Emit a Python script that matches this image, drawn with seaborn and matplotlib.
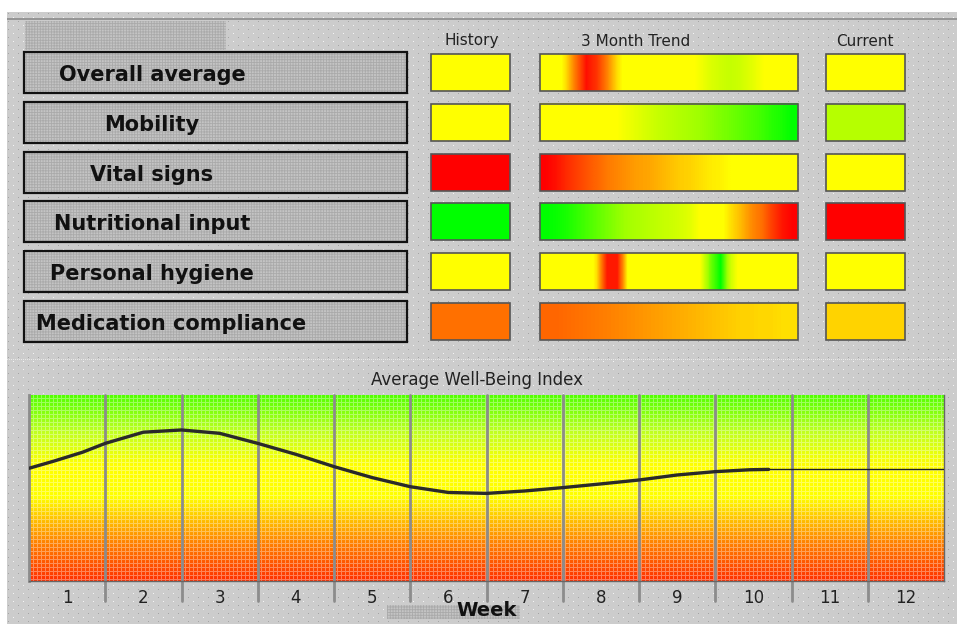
import numpy as np
import matplotlib
matplotlib.use("Agg")
import matplotlib.pyplot as plt
from matplotlib.patches import Rectangle
from matplotlib.colors import LinearSegmentedColormap, Normalize
import seaborn as sns

# ---- data (scores 0 = bad/red, 55 = ok/yellow, 100 = good/green) ----
categories = ["Overall average", "Mobility", "Vital signs",
              "Nutritional input", "Personal hygiene", "Medication compliance"]
history_score = [55, 55, 0, 100, 55, 22]
current_score = [55, 75, 55, 0, 55, 38]

# 3 month trend, two readings per week
trend_overall = [55, 52, 40, 22, 3, 10, 25, 40, 50, 55, 55, 55, 55, 55, 58, 62, 67, 70, 72, 70, 66, 61, 57, 55, 55]
trend_mobility = [55, 55, 55, 55, 55, 55, 57, 60, 63, 66, 69, 72, 74, 76, 78, 80, 82, 84, 86, 88, 90, 92, 95, 97, 100]
trend_vital = [0, 3, 8, 12, 16, 20, 24, 26, 28, 30, 31, 33, 35, 37, 38, 40, 42, 43, 45, 47, 50, 55, 55, 55, 55]
trend_nutrition = [100, 99, 97, 94, 91, 88, 85, 82, 79, 77, 75, 73, 71, 69, 66, 60, 55, 47, 40, 34, 27, 22, 12, 4, 0]
trend_hygiene = [55, 55, 55, 55, 55, 40, 5, 5, 45, 55, 55, 55, 55, 55, 55, 60, 85, 100, 70, 55, 55, 55, 55, 55, 55]
trend_medication = [20, 20, 21, 22, 23, 24, 25, 26, 27, 28, 29, 30, 31, 32, 33, 34, 35, 36, 37, 38, 38, 39, 39, 40, 40]
trend_rows = [trend_overall, trend_mobility, trend_vital,
              trend_nutrition, trend_hygiene, trend_medication]

column_titles = ["History", "3 Month Trend", "Current"]

week_labels = [str(w) for w in range(1, 13)]
curve_week = [0, 0.33, 0.7, 1, 1.5, 2, 2.5, 3, 3.5, 4, 4.5, 5, 5.5, 6, 6.5, 7, 7.5, 8, 8.5, 9, 9.45, 9.7]
curve_index = [60.6, 64.5, 69.2, 74, 80, 81.2, 79.4, 74, 68.1, 61.5, 55.6, 50.7, 47.6, 47.1, 48.4, 50.2,
               52.2, 54.3, 57, 58.8, 59.8, 60]
current_level = 60

# ---- colours ----
status_cmap = LinearSegmentedColormap.from_list(
    "status", [(0, "#ff0000"), (0.25, "#ff8000"), (0.45, "#ffff00"),
               (0.6, "#ffff00"), (0.8, "#a0ff00"), (1, "#00ff00")])
chart_cmap = LinearSegmentedColormap.from_list(
    "chart", [(0, "#ff3000"), (0.2, "#ff8000"), (0.45, "#ffff00"),
              (0.62, "#ffff00"), (0.8, "#c0ff20"), (1, "#50ff00")])
norm = Normalize(0, 100)

sns.set_theme(style="white")
plt.rcParams["font.family"] = ["DejaVu Sans"]
plt.rcParams["hatch.linewidth"] = 0.6

W, H = 957, 624
fig = plt.figure(figsize=(W / 100, H / 100), dpi=100)

# background panel with dotted texture
tex = np.full((H, W, 3), 204, dtype=np.uint8)
yy, xx = np.mgrid[0:H, 0:W]
tex[(yy % 8 == 1) & (xx % 10 == 3)] = 245
tex[(yy % 8 == 5) & (xx % 10 == 8)] = 165
tex[:12, :] = 255
tex[:, :7] = 255
tex[18:20, 7:] = 150
tex[359, 7::2] = 232

bg = fig.add_axes([0, 0, 1, 1])
bg.imshow(tex, extent=[0, W, H, 0], interpolation="nearest", aspect="auto", zorder=0)
bg.set_xlim(0, W)
bg.set_ylim(H, 0)
bg.axis("off")


def textured_box(x0, y0, w, h, edge=None):
    bg.add_patch(Rectangle((x0, y0), w, h, facecolor="#c4c4c4", edgecolor="none", zorder=1))
    bg.add_patch(Rectangle((x0, y0), w, h, facecolor="none", edgecolor="#aaaaaa",
                           lw=0, hatch="++++++", zorder=1.5))
    if edge:
        bg.add_patch(Rectangle((x0, y0), w, h, facecolor="none", edgecolor=edge,
                               lw=1.6, zorder=2))


# title placeholder
textured_box(25, 21, 201, 29)

# column headers
for x, t in zip([472, 636, 865], column_titles):
    bg.text(x, 41, t, ha="center", va="center", fontsize=11, color="#222222")

pitch = 49.8
fig.canvas.draw()
renderer = fig.canvas.get_renderer()
for i, name in enumerate(categories):
    top = 52 + i * pitch
    textured_box(24, top, 383, 41, edge="#111111")
    txt = bg.text(152, top + 23, name, ha="center", va="center",
                  fontsize=15, fontweight="bold", color="#111111", zorder=3)
    w = txt.get_window_extent(renderer).width
    if 152 - w / 2 < 36:
        txt.set_x(36)
        txt.set_ha("left")

    ctop = 54 + i * pitch
    for x0, val in [(431, history_score[i]), (826, current_score[i])]:
        bg.add_patch(Rectangle((x0, ctop), 79, 37, facecolor=status_cmap(norm(val)),
                               edgecolor="#555555", lw=1.2, zorder=2))
    bg.imshow(np.array(trend_rows[i], dtype=float)[None, :], cmap=status_cmap, norm=norm,
              extent=[540, 798, ctop + 37, ctop], aspect="auto",
              interpolation="bilinear", zorder=2)
    bg.add_patch(Rectangle((540, ctop), 258, 37, facecolor="none",
                           edgecolor="#555555", lw=1.2, zorder=3))

# bottom chart
bg.text(477, 380, "Average Well-Being Index", ha="center", va="center",
        fontsize=12, color="#222222")
textured_box(387, 605, 133, 14)
bg.text(487, 611, "Week", ha="center", va="center", fontsize=14,
        fontweight="bold", color="#111111", zorder=3)

ax = fig.add_axes([29 / W, (H - 581) / H, 915 / W, 186 / H])
ax.set_xlim(0, 12)
ax.set_ylim(0, 100)
ax.imshow(np.linspace(100, 0, 256)[:, None], cmap=chart_cmap, norm=norm,
          extent=[0, 12, 0, 100], aspect="auto", interpolation="bilinear", zorder=0)
grid = np.zeros((186, 915, 4))
r, c = np.mgrid[0:186, 0:915]
grid[(r % 4 == 0) | (c % 4 == 0)] = [1, 1, 1, 0.35]
ax.imshow(grid, extent=[0, 12, 0, 100], aspect="auto", interpolation="nearest", zorder=0.5)

for wk in range(1, 12):
    ax.axvline(wk, ymin=-0.11, ymax=1, color="#8c8c8c", lw=2, clip_on=False, zorder=1)

sns.lineplot(x=curve_week, y=curve_index, ax=ax, color="#2a2a2a", lw=2.4, zorder=3)
ax.hlines(current_level, curve_week[-1], len(week_labels), color="#222222", lw=1, zorder=3)

ax.set_xticks(np.arange(len(week_labels)) + 0.5)
ax.set_xticklabels(week_labels, fontsize=12, color="#222222")
ax.tick_params(axis="x", length=0, pad=6)
ax.set_yticks([])
ax.set_xlabel("")
ax.set_ylabel("")
ax.spines["top"].set_visible(False)
ax.spines["left"].set_color("#8c8c8c")
ax.spines["left"].set_linewidth(2)
for side in ["right", "bottom"]:
    ax.spines[side].set_color("#666666")
    ax.spines[side].set_linewidth(1)

fig.savefig("out.png", dpi=100)
